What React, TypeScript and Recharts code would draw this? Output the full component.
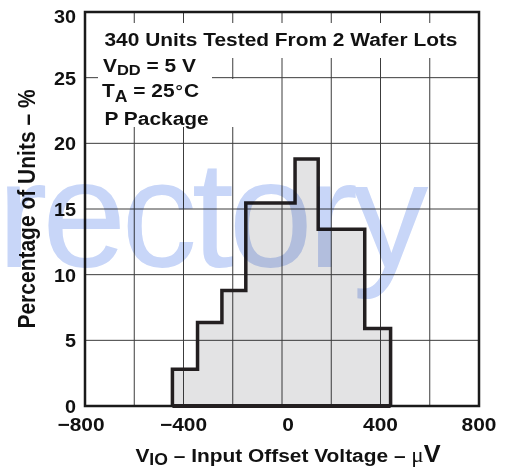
import React from 'react';
import {
  ComposedChart,
  Area,
  XAxis,
  YAxis,
  CartesianGrid,
  ReferenceArea,
  ReferenceLine,
} from 'recharts';

// Histogram bin edges (µV) and percentage of units per bin
const binEdges = [-445, -343, -244, -147, -47, 53, 147, 240, 336, 441];
const binPercent = [2.8, 6.35, 8.8, 15.45, 15.45, 18.8, 13.45, 13.45, 5.9];

const xTicks = [-800, -600, -400, -200, 0, 200, 400, 600, 800];
const xTickLabels = ['\u2212800', '', '\u2212400', '', '0', '', '400', '', '800'];
const yTicks = [0, 5, 10, 15, 20, 25, 30];
const yTickLabels = ['0', '5', '10', '15', '20', '25', '30'];

const noteLine1 = '340 Units Tested From 2 Wafer Lots';
const noteSupply = ['V', 'DD', ' = 5 V'];
const noteTemp = ['T', 'A', ' = 25', '\u00B0', 'C'];
const notePackage = 'P Package';
const yLabel = 'Percentage of Units \u2013 %';
const xLabelParts = ['V', 'IO', ' \u2013 Input Offset Voltage \u2013 ', '\u03BC', 'V'];
const watermark = 'rectory';

const FONT = '"Liberation Sans", Arial, Helvetica, sans-serif';
const SX = 1.1;

const data = [
  { v: binEdges[0], p: 0 },
  ...binPercent.map((p, i) => ({ v: binEdges[i], p })),
  { v: binEdges[binEdges.length - 1], p: 0 },
];

const XTick = (props: any) => {
  const { x, y, payload } = props;
  const idx = xTicks.indexOf(payload.value);
  const label = idx >= 0 ? xTickLabels[idx] : '';
  if (!label) return null;
  const shift = payload.value === 0 ? 6 : payload.value === -800 ? -4 : 0;
  return (
    <g transform={`translate(${x + shift},${y + 17}) scale(${SX},1)`}>
      <text x={0} y={0} textAnchor="middle" fontFamily={FONT} fontWeight="bold" fontSize={19} fill="#111">
        {label}
      </text>
    </g>
  );
};

const YTick = (props: any) => {
  const { x, y, payload } = props;
  const idx = yTicks.indexOf(payload.value);
  const label = idx >= 0 ? yTickLabels[idx] : '';
  const dy = payload.value === 30 ? 11 : 7;
  return (
    <g transform={`translate(${x - 1},${y + dy}) scale(${SX},1)`}>
      <text x={0} y={0} textAnchor="end" fontFamily={FONT} fontWeight="bold" fontSize={18} fill="#111">
        {label}
      </text>
    </g>
  );
};

export default function App() {
  return (
    <div style={{ position: 'absolute', left: 0, top: 0, width: 507, height: 467, background: '#fff', overflow: 'hidden' }}>
      <div style={{ position: 'absolute', left: 0, top: 0 }}>
        <ComposedChart width={507} height={467} data={data} margin={{ top: 12, right: 28, bottom: 0, left: 0 }}>
          <CartesianGrid stroke="#3c3c3c" strokeWidth={1} />
          <XAxis
            dataKey="v"
            type="number"
            domain={[-800, 800]}
            ticks={xTicks}
            interval={0}
            axisLine={false}
            tickLine={false}
            height={61}
            tick={<XTick />}
            allowDuplicatedCategory
          />
          <YAxis
            type="number"
            domain={[0, 30]}
            ticks={yTicks}
            interval={0}
            axisLine={false}
            tickLine={false}
            width={85}
            tick={<YTick />}
          />
          <Area
            type="stepAfter"
            dataKey="p"
            stroke="#231f20"
            strokeWidth={3.5}
            strokeLinejoin="miter"
            fill="#23262e"
            fillOpacity={0.13}
            dot={false}
            activeDot={false}
            isAnimationActive={false}
          />
          <ReferenceLine
            segment={[
              { x: binEdges[0], y: 0 },
              { x: binEdges[binEdges.length - 1], y: 0 },
            ]}
            stroke="#231f20"
            strokeWidth={4}
            ifOverflow="visible"
          />
          <ReferenceArea
            x1={-800}
            x2={800}
            y1={0}
            y2={30}
            fill="none"
            stroke="#1a1a1a"
            strokeWidth={2.5}
            ifOverflow="visible"
          />
        </ComposedChart>
      </div>

      {/* annotation and axis titles */}
      <svg width={507} height={467} style={{ position: 'absolute', left: 0, top: 0 }}>
        <rect x={96} y={23} width={374} height={35} fill="#fff" />
        <rect x={98} y={58} width={114} height={69} fill="#fff" />
        <rect x={212} y={79} width={28} height={48} fill="#fff" />
        <g fontFamily={FONT} fontWeight="bold" fill="#111">
          <g transform={`translate(104.5,45.5) scale(${SX},1)`}>
            <text fontSize={19}>{noteLine1}</text>
          </g>
          <g transform={`translate(103,71.5) scale(${SX},1)`}>
            <text fontSize={19}>
              {noteSupply[0]}
              <tspan fontSize={15} dy={3.5}>{noteSupply[1]}</tspan>
              <tspan dy={-3.5}>{noteSupply[2]}</tspan>
            </text>
          </g>
          <g transform={`translate(102,96.7) scale(${SX},1)`}>
            <text fontSize={19}>
              {noteTemp[0]}
              <tspan fontSize={16} dy={5}>{noteTemp[1]}</tspan>
              <tspan dy={-5}>{noteTemp[2]}</tspan>
              <tspan fontWeight="normal" fontFamily='"DejaVu Serif", serif' fontSize={17}>{noteTemp[3]}</tspan>
              <tspan>{noteTemp[4]}</tspan>
            </text>
          </g>
          <g transform={`translate(104.5,125) scale(${SX},1)`}>
            <text fontSize={19}>{notePackage}</text>
          </g>
          <g transform={`translate(35,209) scale(${SX},1) rotate(-90)`}>
            <text fontSize={21} textAnchor="middle">{yLabel}</text>
          </g>
          <g transform={`translate(288,461.5) scale(${SX},1)`}>
            <text fontSize={19} textAnchor="middle">
              {xLabelParts[0]}
              <tspan fontSize={16} dy={3.5}>{xLabelParts[1]}</tspan>
              <tspan dy={-3.5}>{xLabelParts[2]}</tspan>
              <tspan fontWeight="normal" fontFamily='"Liberation Serif", serif' fontSize={21}>{xLabelParts[3]}</tspan>
              <tspan fontSize={23}>{xLabelParts[4]}</tspan>
            </text>
          </g>
        </g>
      </svg>

      {/* watermark */}
      <svg width={507} height={467} style={{ position: 'absolute', left: 0, top: 0, mixBlendMode: 'multiply', pointerEvents: 'none' }}>
        <text x={-3} y={267} fontFamily={FONT} fontSize={152} letterSpacing={-5.5} fill="rgb(200,214,248)">
          {watermark}
        </text>
      </svg>
    </div>
  );
}
